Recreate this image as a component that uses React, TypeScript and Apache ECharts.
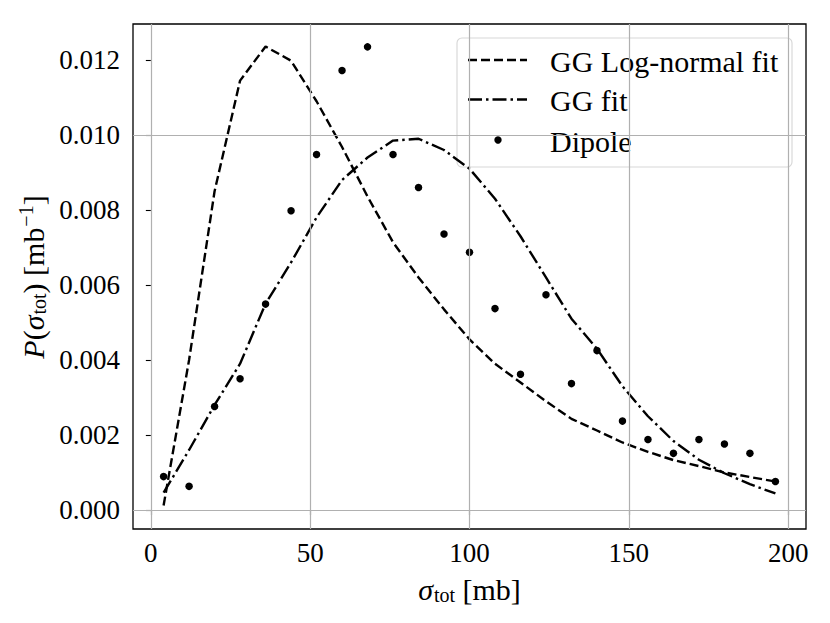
import React, { useEffect, useRef } from 'react';
import * as echarts from 'echarts';

// ---- data ----
const sigmaTot = [4, 12, 20, 28, 36, 44, 52, 60, 68, 76, 84, 92, 100, 108, 116, 124, 132, 140, 148, 156, 164, 172, 180, 188, 196];
const ggLogNormal = [0.00012, 0.0040, 0.0085, 0.01145, 0.01236, 0.01198, 0.0109, 0.00968, 0.00836, 0.00714, 0.0062, 0.00535, 0.00455, 0.0039, 0.0034, 0.0029, 0.00243, 0.00212, 0.0018, 0.00155, 0.00133, 0.00117, 0.001, 0.00088, 0.00076];
const ggFit = [0.00046, 0.0016, 0.0028, 0.0039, 0.0055, 0.0066, 0.0078, 0.0088, 0.0094, 0.00985, 0.0099, 0.0096, 0.0091, 0.0083, 0.0073, 0.0062, 0.0051, 0.0043, 0.0033, 0.0025, 0.00184, 0.00134, 0.00098, 0.00069, 0.00044];
const dipole = [0.00089, 0.00063, 0.00276, 0.0035, 0.00549, 0.00798, 0.00948, 0.01172, 0.01235, 0.00948, 0.0086, 0.00736, 0.00687, 0.00537, 0.00362, 0.00574, 0.00337, 0.00425, 0.00237, 0.00188, 0.00151, 0.00188, 0.00176, 0.00151, 0.00076];
const xTicks = [0, 50, 100, 150, 200];
const yTicks = [0, 0.002, 0.004, 0.006, 0.008, 0.010, 0.012];
const legendLabels = ['GG Log-normal fit', 'GG fit', 'Dipole'];

const X_MIN = -5.6;
const X_MAX = 205.6;
const Y_MIN = -0.000507;
const Y_MAX = 0.01296;

const FONT = 'Liberation Serif';
const FS = 27;
const LW = 2.4;
const DASH = [9, 4];
const DASHDOT = [14, 4, 2.5, 4];

export default function App() {
  const ref = useRef<HTMLDivElement>(null);
  useEffect(() => {
    if (!ref.current) return;
    const chart = echarts.init(ref.current, undefined, { renderer: 'svg' });
    const pairs = (ys: number[]) => sigmaTot.map((x, i) => [x, ys[i]]);
    const gridL = 133, gridT = 24, gridR = 806, gridB = 529;
    const option: any = {
      animation: false,
      backgroundColor: '#fff',
      textStyle: { fontFamily: FONT },
      grid: {
        left: gridL, top: gridT, width: gridR - gridL, height: gridB - gridT,
        show: true, borderColor: '#000', borderWidth: 1.3, backgroundColor: 'transparent',
        containLabel: false, outerBoundsMode: 'none',
      },
      xAxis: {
        type: 'value', min: X_MIN, max: X_MAX,
        axisLine: { show: false },
        axisTick: { show: true, inside: false, length: 5, customValues: xTicks, lineStyle: { color: '#000', width: 1.1 } },
        axisLabel: { customValues: xTicks, margin: 10, color: '#000', fontFamily: FONT, fontSize: FS },
        splitLine: { show: false },
      },
      yAxis: {
        type: 'value', min: Y_MIN, max: Y_MAX,
        axisLine: { show: false },
        axisTick: { show: true, inside: false, length: 5, customValues: yTicks, lineStyle: { color: '#000', width: 1.1 } },
        axisLabel: { customValues: yTicks, margin: 13, color: '#000', fontFamily: FONT, fontSize: FS, formatter: (v: number) => v.toFixed(3) },
        splitLine: { show: false },
      },
      series: [
        {
          type: 'line', data: [], z: 1, silent: true,
          markLine: {
            silent: true, symbol: 'none', animation: false,
            label: { show: false },
            lineStyle: { color: '#b0b0b0', width: 1.2, type: 'solid' },
            emphasis: { disabled: true },
            data: [
              ...xTicks.map((v) => ({ xAxis: v })),
              ...yTicks.map((v) => ({ yAxis: v })),
            ],
          },
        },
        {
          name: legendLabels[0], type: 'line', data: pairs(ggLogNormal), showSymbol: false, symbol: 'none', z: 3,
          lineStyle: { color: '#000', width: LW, type: DASH },
        },
        {
          name: legendLabels[1], type: 'line', data: pairs(ggFit), showSymbol: false, symbol: 'none', z: 3,
          lineStyle: { color: '#000', width: LW, type: DASHDOT },
        },
        {
          name: legendLabels[2], type: 'scatter', data: pairs(dipole), symbol: 'circle', symbolSize: 7.5, z: 4,
          itemStyle: { color: '#000', opacity: 1 },
        },
      ],
      graphic: [
        {
          type: 'group', z: 100,
          children: [
            { type: 'rect', shape: { x: 457, y: 38, width: 335, height: 129, r: 5 }, style: { fill: 'rgba(255,255,255,0.8)', stroke: 'rgba(204,204,204,0.8)', lineWidth: 1.1 } },
            { type: 'line', shape: { x1: 468, y1: 60, x2: 527, y2: 60 }, style: { stroke: '#000', lineWidth: LW, lineDash: DASH } },
            { type: 'line', shape: { x1: 468, y1: 99.5, x2: 527, y2: 99.5 }, style: { stroke: '#000', lineWidth: LW, lineDash: DASHDOT } },
            { type: 'circle', shape: { cx: 498, cy: 140, r: 3.7 }, style: { fill: '#000' } },
            { type: 'text', x: 550, y: 61, style: { text: legendLabels[0], fontFamily: FONT, fontSize: 30, fill: '#000', verticalAlign: 'middle', align: 'left' } },
            { type: 'text', x: 550, y: 100, style: { text: legendLabels[1], fontFamily: FONT, fontSize: 30, fill: '#000', verticalAlign: 'middle', align: 'left' } },
            { type: 'text', x: 550, y: 141, style: { text: legendLabels[2], fontFamily: FONT, fontSize: 30, fill: '#000', verticalAlign: 'middle', align: 'left' } },
          ],
        },
        {
          type: 'text', x: 469.5, y: 589, z: 100,
          style: {
            text: '{it|σ}{sub|tot}{rm| [mb]}',
            align: 'center', verticalAlign: 'middle', fill: '#000',
            rich: {
              it: { fontFamily: FONT, fontSize: 30, fontStyle: 'italic', fill: '#000' },
              rm: { fontFamily: FONT, fontSize: 30, fill: '#000' },
              sub: { fontFamily: FONT, fontSize: 20, fill: '#000', padding: [12, 0, 0, 1] },
            },
          },
        },
        {
          type: 'text', x: 33, y: 277, z: 100, rotation: Math.PI / 2,
          style: {
            text: '{it|P}{rm|(}{it|σ}{sub|tot}{rm|) [mb}{sup|−1}{rm|]}',
            align: 'center', verticalAlign: 'middle', fill: '#000',
            rich: {
              it: { fontFamily: FONT, fontSize: 30, fontStyle: 'italic', fill: '#000' },
              rm: { fontFamily: FONT, fontSize: 30, fill: '#000' },
              sub: { fontFamily: FONT, fontSize: 20, fill: '#000', padding: [12, 0, 0, 1] },
              sup: { fontFamily: FONT, fontSize: 20, fill: '#000', padding: [0, 0, 14, 1] },
            },
          },
        },
      ],
    };
    chart.setOption(option);
    return () => chart.dispose();
  }, []);
  return <div ref={ref} style={{ position: 'fixed', left: 0, top: 0, width: 830, height: 623 }} />;
}
